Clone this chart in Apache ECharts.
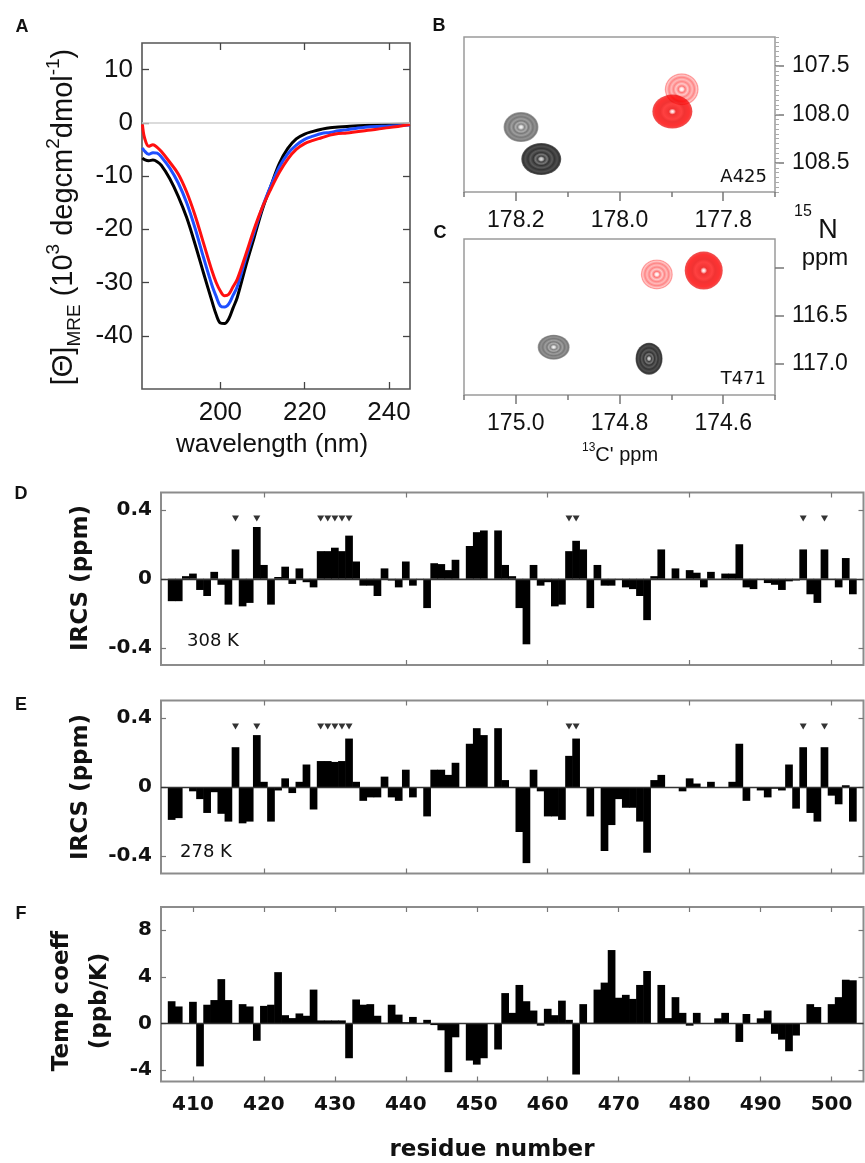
<!DOCTYPE html>
<html>
<head>
<meta charset="utf-8">
<title>IRCS figure</title>
<script src="https://cdn.jsdelivr.net/npm/echarts@6/dist/echarts.min.js"></script>
<style>
html, body { margin: 0; padding: 0; background: #fff; }
#main { width: 865px; height: 1163px; }
</style>
</head>
<body>
<div id="main"></div>
<script>
// ---- panel A: CD spectra ----
var wavelength = [181.5, 182, 183, 184, 185, 186, 188, 190, 192, 194, 196, 198, 199, 200, 201, 202, 203, 204,
  206, 208, 210, 212, 214, 216, 218, 220, 222, 224, 226, 228, 230, 235, 240, 245];
var cdBlack = [-6.6, -6.9, -7.1, -7.0, -7.3, -8.0, -10.5, -13.8, -17.8, -22.8, -28.2, -33.5, -36.0, -37.6, -37.7, -36.8, -34.8, -32.8,
  -27.0, -21.6, -16.2, -11.8, -7.6, -4.8, -3.0, -2.1, -1.6, -1.2, -0.9, -0.8, -0.7, -0.45, -0.3, -0.2];
var cdBlue = [-4.7, -5.3, -5.9, -5.6, -5.7, -6.4, -8.5, -11.3, -15.0, -19.8, -25.3, -30.5, -32.6, -34.4, -34.6, -34.0, -32.4, -30.8,
  -25.5, -20.6, -15.8, -11.8, -8.3, -5.8, -4.2, -3.1, -2.5, -2.0, -1.8, -1.5, -1.3, -0.8, -0.6, -0.4];
var cdRed = [-0.3, -2.8, -4.4, -4.1, -4.6, -5.4, -7.4, -9.6, -13.0, -17.4, -22.6, -27.8, -30.0, -31.6, -32.5, -32.2, -30.8, -29.4,
  -24.8, -20.0, -15.8, -12.4, -9.3, -6.8, -5.0, -3.9, -3.3, -2.8, -2.3, -2.0, -1.9, -1.4, -0.9, -0.3];
var cdXTicks = [200, 220, 240];
var cdYTicks = [-40, -30, -20, -10, 0, 10];

// ---- panels B, C: HN peaks (13C', 15N) ----
var a425C = [178.19, 178.151, 177.88, 177.898];
var a425N = [108.13, 108.46, 107.74, 107.97];
var a425Kind = ['grey', 'black', 'pink', 'red'];
var t471C = [174.927, 174.743, 174.728, 174.6375, 174.49];
var t471N = [116.83, 116.95, 116.07, 116.03, 115.82];
var t471Kind = ['grey', 'black', 'pink', 'red', 'black'];
var a425CTicks = [178.2, 178.0, 177.8];
var a425CMinor = [178.3, 178.1, 177.9, 177.7];
var a425NTicks = [107.5, 108.0, 108.5];
var t471CTicks = [175.0, 174.8, 174.6];
var t471CMinor = [175.1, 174.9, 174.7, 174.5];
var t471NTicks = [116.0, 116.5, 117.0];

// ---- panels D, E, F: residues 406..504 ----
var residues = [];
for (var r = 406; r <= 504; r++) residues.push(String(r));
var ircs308 = [null,
  -0.13, -0.13, 0.015, 0.03, -0.065, -0.10, 0.04, -0.035, -0.15, 0.17,
  -0.16, -0.14, 0.30, 0.08, -0.15, 0.01, 0.07, -0.03, 0.06, -0.02,
  -0.05, 0.16, 0.16, 0.18, 0.16, 0.25, 0.10, -0.04, -0.04, -0.10,
  0.06, -0.01, -0.05, 0.10, -0.04, 0, -0.17, 0.09, 0.085, 0.05,
  0.11, 0, 0.19, 0.27, 0.28, 0, 0.28, 0.08, 0.015, -0.17,
  -0.38, 0.08, -0.04, -0.02, -0.16, -0.15, 0.16, 0.22, 0.17, -0.17,
  0.08, -0.04, -0.04, 0, -0.05, -0.06, -0.10, -0.24, 0.015, 0.17,
  0, 0.06, 0, 0.05, 0.035, -0.05, 0.04, 0, 0.03, 0.03,
  0.20, -0.05, -0.06, 0, -0.025, -0.035, -0.065, -0.015, -0.01, 0.17,
  -0.09, -0.14, 0.17, 0, -0.05, 0.12, -0.09,
  null];
var ircs278 = [null,
  -0.19, -0.18, 0, -0.025, -0.07, -0.15, -0.03, -0.155, -0.20, 0.23,
  -0.21, -0.20, 0.30, 0.03, -0.20, -0.02, 0.05, -0.035, 0.03, 0.13,
  -0.13, 0.15, 0.15, 0.145, 0.15, 0.28, 0.03, -0.08, -0.06, -0.06,
  0.06, -0.06, -0.08, 0.10, -0.06, 0, -0.17, 0.10, 0.10, 0.07,
  0.14, 0, 0.25, 0.34, 0.30, 0, 0.34, 0.04, 0, -0.26,
  -0.44, 0.10, -0.025, -0.17, -0.17, -0.19, 0.18, 0.28, 0, -0.17,
  0, -0.37, -0.22, -0.07, -0.12, -0.12, -0.20, -0.38, 0.04, 0.07,
  -0.005, -0.005, -0.025, 0.05, 0.02, 0, 0.03, -0.005, 0, 0.03,
  0.25, -0.08, 0, -0.02, -0.06, -0.01, -0.02, 0.13, -0.125, 0.23,
  -0.15, -0.20, 0.23, -0.05, -0.10, 0.01, -0.20,
  null];
var tempCoeff = [null,
  1.9, 1.45, 0, 1.85, -3.7, 1.6, 2.0, 3.8, 2.0, 0,
  1.65, 1.45, -1.5, 1.5, 1.6, 4.4, 0.7, 0.45, 0.85, 0.65,
  2.9, 0.25, 0.25, 0.25, 0.25, -3.0, 2.05, 1.6, 1.65, 0.65,
  0.05, 1.6, 0.75, 0.1, 0.55, 0, 0.3, -0.15, -0.6, -4.2,
  -1.2, 0, -3.2, -3.55, -3.0, 0, -2.25, 2.6, 0.9, 3.3,
  1.9, 1.1, -0.2, 1.25, 0.7, 1.95, 0.3, -4.4, 1.65, 0.05,
  2.9, 3.5, 6.3, 2.2, 2.45, 2.1, 3.3, 4.5, 0, 3.3,
  0.45, 2.25, 0.9, -0.2, 0.9, 0, 0, 0.43, 0.9, 0,
  -1.6, 0.8, 0, 0.43, 1.1, -0.9, -1.4, -2.4, -1.05, 0,
  1.65, 1.4, 0, 1.65, 2.25, 3.75, 3.7,
  null];
var markerResidues = ['416', '419', '428', '429', '430', '431', '432', '463', '464', '496', '499'];
var markerLevel = 0.35;
var ircsTicks = [-0.4, 0, 0.4];
var tempTicks = [-4, 0, 4, 8];

// ---- styles ----
var ARIAL = 'Liberation Sans';
var VERD = 'DejaVu Sans';
var INK = '#111';
var NOLINE = { show: false, onZero: false };

function radial(stops) {
  return { type: 'radial', x: 0.5, y: 0.5, r: 0.5,
    colorStops: stops.map(function (s) { return { offset: s[0], color: s[1] }; }) };
}
var peakLook = {
  black: radial([[0, '#ddd'], [0.1, '#999'], [0.18, '#111'], [0.3, '#555'], [0.4, '#000'], [0.55, '#333'], [0.66, '#000'], [0.8, '#222'], [0.92, '#000'], [1, 'rgba(0,0,0,0.75)']]),
  grey: radial([[0, '#fff'], [0.1, '#ccc'], [0.2, '#666'], [0.32, '#999'], [0.42, '#555'], [0.55, '#888'], [0.68, '#555'], [0.8, '#777'], [0.92, '#555'], [1, 'rgba(90,90,90,0.65)']]),
  red: radial([[0, '#fff'], [0.08, '#fbb'], [0.18, '#e00'], [0.45, '#f11'], [0.6, '#e00'], [0.85, '#f00'], [1, 'rgba(230,0,0,0.85)']]),
  pink: radial([[0, '#fff'], [0.1, '#fdd'], [0.2, '#f55'], [0.35, '#fbb'], [0.48, '#f66'], [0.62, '#faa'], [0.75, '#f66'], [0.88, '#fbb'], [0.95, '#f77'], [1, 'rgba(255,110,110,0.55)']])
};
var a425Size = [[35, 30], [40, 32], [34, 32], [40, 34]];
var t471Size = [[32, 25], [27, 32], [32, 30], [38, 38], [22, 26]];

var xAxes = [], yAxes = [], series = [];
function addX(o) { xAxes.push(o); return xAxes.length - 1; }
function addY(o) { yAxes.push(o); return yAxes.length - 1; }

var grids = [
  { left: 142, top: 43, width: 268, height: 346, show: true, borderColor: '#555', borderWidth: 1.6 },
  { left: 464, top: 37, width: 311, height: 155, show: true, borderColor: '#9a9a9a', borderWidth: 1.5 },
  { left: 464, top: 239, width: 311, height: 156, show: true, borderColor: '#9a9a9a', borderWidth: 1.5 },
  { left: 161, top: 492.5, width: 702.5, height: 172.5, show: true, borderColor: '#8c8c8c', borderWidth: 2 },
  { left: 161, top: 700.5, width: 702.5, height: 173, show: true, borderColor: '#8c8c8c', borderWidth: 2 },
  { left: 161, top: 907, width: 702.5, height: 174.5, show: true, borderColor: '#8c8c8c', borderWidth: 2 }
];

// panel A axes
function aTick(vals) {
  return { show: true, inside: true, length: 7, customValues: vals, lineStyle: { color: '#444', width: 1.3 } };
}
var ax = addX({ gridIndex: 0, type: 'value', min: 181.4, max: 245, axisLine: NOLINE, splitLine: { show: false },
  axisTick: aTick(cdXTicks),
  axisLabel: { customValues: cdXTicks, fontSize: 26, fontFamily: ARIAL, color: INK, margin: 11 } });
addX({ gridIndex: 0, type: 'value', position: 'top', min: 181.4, max: 245, axisLine: NOLINE, splitLine: { show: false },
  axisTick: aTick(cdXTicks), axisLabel: { show: false } });
var ay = addY({ gridIndex: 0, type: 'value', min: -50, max: 15, axisLine: NOLINE, splitLine: { show: false },
  axisTick: aTick(cdYTicks),
  axisLabel: { customValues: cdYTicks, fontSize: 26, fontFamily: ARIAL, color: INK, margin: 9 } });
addY({ gridIndex: 0, type: 'value', position: 'right', min: -50, max: 15, axisLine: NOLINE, splitLine: { show: false },
  axisTick: aTick(cdYTicks), axisLabel: { show: false } });

function cdSeries(vals, color, extra) {
  return Object.assign({ type: 'line', xAxisIndex: ax, yAxisIndex: ay, showSymbol: false, smooth: 0.35,
    data: wavelength.map(function (w, i) { return [w, vals[i]]; }),
    lineStyle: { color: color, width: 3 } }, extra || {});
}
series.push(cdSeries(cdBlack, '#000', { markLine: { silent: true, symbol: 'none', label: { show: false },
  lineStyle: { color: '#cfcfcf', width: 1.5, type: 'solid' }, data: [{ yAxis: 0 }] } }));
series.push(cdSeries(cdBlue, '#1f4fff'));
series.push(cdSeries(cdRed, '#ff1010'));

// panels B and C
function nmrPanel(g, cMin, cMax, cTicks, cMinor, nMin, nMax, nTicks, nLabels, ruler, cs, ns, kinds, sizes) {
  var tickStyle = { color: '#777', width: 1.5 };
  var xi = addX({ gridIndex: g, type: 'value', inverse: true, min: cMin, max: cMax, axisLine: NOLINE, splitLine: { show: false },
    axisTick: { show: true, length: 9, customValues: cTicks, lineStyle: tickStyle },
    axisLabel: { customValues: cTicks, formatter: function (v) { return v.toFixed(1); }, fontSize: 23, fontFamily: ARIAL, color: INK, margin: 17 } });
  addX({ gridIndex: g, type: 'value', position: 'bottom', inverse: true, min: cMin, max: cMax, axisLine: NOLINE, splitLine: { show: false },
    axisTick: { show: true, length: 5, customValues: cMinor, lineStyle: tickStyle }, axisLabel: { show: false } });
  var yi = addY({ gridIndex: g, type: 'value', position: 'right', inverse: true, min: nMin, max: nMax, axisLine: NOLINE, splitLine: { show: false },
    axisTick: { show: true, length: 9, customValues: nTicks, lineStyle: tickStyle },
    axisLabel: { customValues: nLabels, formatter: function (v) { return v.toFixed(1); }, fontSize: 23, fontFamily: ARIAL, color: INK, margin: 17 } });
  if (ruler) {
    addY({ gridIndex: g, type: 'value', position: 'right', inverse: true, min: nMin, max: nMax, interval: 0.05,
      axisLine: NOLINE, splitLine: { show: false }, axisLabel: { show: false },
      axisTick: { show: true, length: 4, lineStyle: { color: '#aaa', width: 1 } } });
  }
  cs.forEach(function (c, i) {
    series.push({ type: 'scatter', xAxisIndex: xi, yAxisIndex: yi, clip: true, symbol: 'circle',
      symbolSize: sizes[i], data: [[c, ns[i]]], itemStyle: { color: peakLook[kinds[i]] } });
  });
}
nmrPanel(1, 177.7, 178.3, a425CTicks, a425CMinor, 107.2, 108.8, a425NTicks, a425NTicks, true, a425C, a425N, a425Kind, a425Size);
nmrPanel(2, 174.5, 175.1, t471CTicks, t471CMinor, 115.7, 117.33, t471NTicks, [116.5, 117.0], false, t471C, t471N, t471Kind, t471Size);

// full-width histogram bars, one residue per category band
function renderBar(params, api) {
  var cat = api.value(0);
  var top = api.coord([cat, api.value(1)]);
  var base = api.coord([cat, 0]);
  var w = api.size([1, 0])[0] + 0.6;
  return { type: 'rect',
    shape: { x: top[0] - w / 2, y: Math.min(top[1], base[1]), width: w, height: Math.max(Math.abs(base[1] - top[1]), 0.5) },
    style: { fill: '#000' } };
}

// panels D, E, F
function barPanel(g, values, yMin, yMax, yTicks, tickStep, withLabels, markers) {
  var tick = { show: true, inside: true, length: 5, alignWithLabel: true, lineStyle: { color: '#777', width: 1.2 },
    interval: function (i, v) { return (+v) % tickStep === 0; } };
  var xi = addX({ gridIndex: g, type: 'category', data: residues, axisLine: NOLINE, axisTick: tick,
    axisLabel: withLabels ? { interval: function (i, v) { return (+v) % 10 === 0; }, fontSize: 20, fontWeight: 'bold',
      fontFamily: VERD, color: INK, margin: 13 } : { show: false } });
  addX({ gridIndex: g, type: 'category', position: 'top', data: residues, axisLine: NOLINE, axisTick: tick, axisLabel: { show: false } });
  var yTick = { show: true, inside: true, length: 5, customValues: yTicks, lineStyle: { color: '#777', width: 1.2 } };
  var yi = addY({ gridIndex: g, type: 'value', min: yMin, max: yMax, axisLine: NOLINE, splitLine: { show: false }, axisTick: yTick,
    axisLabel: { customValues: yTicks, fontSize: 20, fontWeight: 'bold', fontFamily: VERD, color: INK, margin: 9 } });
  addY({ gridIndex: g, type: 'value', position: 'right', min: yMin, max: yMax, axisLine: NOLINE, splitLine: { show: false },
    axisTick: yTick, axisLabel: { show: false } });
  var pairs = [];
  values.forEach(function (v, i) { if (v !== null) pairs.push([residues[i], v]); });
  series.push({ type: 'custom', xAxisIndex: xi, yAxisIndex: yi, renderItem: renderBar, data: pairs,
    encode: { x: 0, y: 1 } });
  series.push({ type: 'line', xAxisIndex: xi, yAxisIndex: yi, data: [], silent: true,
    markLine: { silent: true, symbol: 'none', label: { show: false },
      lineStyle: { color: '#333', width: 1.3, type: 'solid' }, data: [{ yAxis: 0 }] } });
  if (markers) {
    series.push({ type: 'scatter', xAxisIndex: xi, yAxisIndex: yi, symbol: 'triangle', symbolRotate: 180, symbolSize: [7, 6],
      itemStyle: { color: '#000' }, data: markers.map(function (m) { return [m, markerLevel]; }) });
  }
}
barPanel(3, ircs308, -0.5, 0.5, ircsTicks, 20, false, markerResidues);
barPanel(4, ircs278, -0.5, 0.5, ircsTicks, 20, false, markerResidues);
barPanel(5, tempCoeff, -5, 10, tempTicks, 10, true, null);

// ---- text ----
function txt(x, y, text, size, opts) {
  opts = opts || {};
  return { type: 'text', x: x, y: y, rotation: opts.rot || 0, z: 100,
    style: { text: text, fill: INK, fontSize: size, fontFamily: opts.family || ARIAL, fontWeight: opts.weight || 'normal',
      align: opts.align || 'center', verticalAlign: 'middle', rich: opts.rich, lineHeight: opts.lineHeight } };
}
var graphics = [
  txt(22, 27, 'A', 18, { weight: 'bold' }),
  txt(439, 26, 'B', 18, { weight: 'bold' }),
  txt(440, 233, 'C', 18, { weight: 'bold' }),
  txt(21, 494, 'D', 18, { weight: 'bold' }),
  txt(21, 705, 'E', 18, { weight: 'bold' }),
  txt(21, 914, 'F', 18, { weight: 'bold' }),
  txt(272, 445, 'wavelength (nm)', 26),
  txt(64, 217, '[\u0398]{sub|MRE} (10{sup|3} degcm{sup|2}dmol{sup|-1})', 29, { rot: Math.PI / 2, lineHeight: 40,
    rich: { sup: { fontSize: 19, fontFamily: ARIAL, verticalAlign: 'top', lineHeight: 40, fill: INK },
            sub: { fontSize: 19, fontFamily: ARIAL, verticalAlign: 'bottom', lineHeight: 40, fill: INK } } }),
  txt(767, 177, 'A425', 18, { family: VERD, align: 'right' }),
  txt(766, 379, 'T471', 18, { family: VERD, align: 'right' }),
  txt(803, 212, '15', 16),
  txt(828, 231, 'N', 27),
  txt(825, 258, 'ppm', 24),
  txt(620, 455, '{sup|13}C\' ppm', 20, { lineHeight: 26,
    rich: { sup: { fontSize: 12, fontFamily: ARIAL, verticalAlign: 'top', lineHeight: 26, fill: INK } } }),
  txt(81, 578, 'IRCS (ppm)', 23, { rot: Math.PI / 2, family: VERD, weight: 'bold' }),
  txt(81, 787, 'IRCS (ppm)', 23, { rot: Math.PI / 2, family: VERD, weight: 'bold' }),
  txt(62, 1001, 'Temp coeff', 23, { rot: Math.PI / 2, family: VERD, weight: 'bold' }),
  txt(100, 1001, '(ppb/K)', 23, { rot: Math.PI / 2, family: VERD, weight: 'bold' }),
  txt(187, 641, '308 K', 18, { family: VERD, align: 'left' }),
  txt(180, 852, '278 K', 18, { family: VERD, align: 'left' }),
  txt(492, 1150, 'residue number', 23, { family: VERD, weight: 'bold' })
];

var chart = echarts.init(document.getElementById('main'), null, { renderer: 'canvas' });
chart.setOption({
  animation: false,
  backgroundColor: '#fff',
  grid: grids,
  xAxis: xAxes,
  yAxis: yAxes,
  series: series,
  graphic: graphics
});
</script>
</body>
</html>
